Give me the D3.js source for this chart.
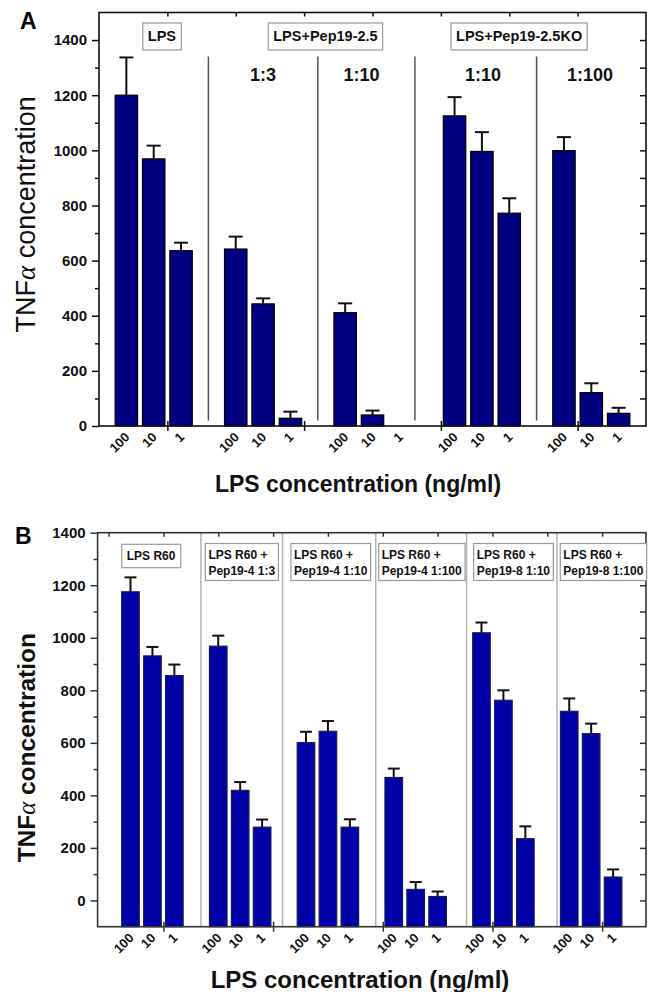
<!DOCTYPE html>
<html>
<head>
<meta charset="utf-8">
<script src="https://cdn.jsdelivr.net/npm/d3@7"></script>
<style>
  body { margin: 0; background: #fff; }
  text { font-family: "Liberation Sans", Arial, sans-serif; }
</style>
</head>
<body>
<svg id="fig" width="648" height="992"></svg>
<script>
// LPS dose written under every bar (ng/ml)
const doses = ["100", "10", "1"];

// panel A
const headersA = ["LPS", "LPS+Pep19-2.5", "LPS+Pep19-2.5KO"];
const ratiosA = ["1:3", "1:10", "1:10", "1:100"];
const tnfA = [[1200, 969, 636], [642, 443, 28], [411, 40, 0], [1125, 996, 772], [999, 121, 46]];
const errA = [[137, 48, 29], [45, 20, 24], [34, 16, 0], [68, 70, 54], [49, 34, 20]];
const yTicksA = [0, 200, 400, 600, 800, 1000, 1200, 1400];

// panel B
const headersB = [["LPS R60"], ["LPS R60 +", "Pep19-4 1:3"], ["LPS R60 +", "Pep19-4 1:10"],
  ["LPS R60 +", "Pep19-4 1:100"], ["LPS R60 +", "Pep19-8 1:10"], ["LPS R60 +", "Pep19-8 1:100"]];
const tnfB = [[1175, 931, 856], [968, 419, 279], [601, 644, 279], [468, 42, 15], [1019, 762, 235], [720, 635, 89]];
const errB = [[55, 34, 42], [40, 32, 29], [41, 39, 30], [34, 28, 19], [39, 38, 47], [49, 38, 29]];
const yTicksB = [0, 200, 400, 600, 800, 1000, 1200, 1400];

const yTitle = "TNF", alpha = "\u03b1", yTitleRest = " concentration";
const xTitle = "LPS concentration (ng/ml)";

const svg = d3.select("#fig");

// one bar per dose, groups 4 slots apart (one empty slot between groups)
function rows(tnf, err) {
  return tnf.flatMap((g, gi) => g.map((v, i) => ({ pos: gi * 4 + i, v: v, e: err[gi][i], dose: doses[i] })));
}

function drawPanel(o) {
  const g = svg.append("g");
  const x = d3.scaleLinear().domain(o.xDomain).range([o.left, o.right]);
  const y = d3.scaleLinear().domain(o.yDomain).range([o.bottom, o.top]);
  const data = rows(o.tnf, o.err);
  const bw = x(o.barFrac) - x(0);

  // group dividers
  g.selectAll(".div").data(o.dividers).enter().append("line")
    .attr("x1", d => x(d)).attr("x2", d => x(d))
    .attr("y1", y(o.divTop)).attr("y2", y(o.divBottom))
    .attr("stroke", o.divColor).attr("stroke-width", 1.5);

  // bars
  const live = data.filter(d => d.v > 0);
  g.selectAll(".bar").data(live).enter().append("rect")
    .attr("x", d => x(d.pos) - bw / 2).attr("width", bw)
    .attr("y", d => y(d.v)).attr("height", d => y(o.yDomain[0]) - y(d.v))
    .attr("fill", o.barFill).attr("stroke", o.barStroke).attr("stroke-width", 1.2);

  // error bars (upper half only)
  const eb = g.selectAll(".err").data(live.filter(d => d.e > 0)).enter().append("g")
    .attr("stroke", "#111").attr("stroke-width", 2);
  eb.append("line").attr("x1", d => x(d.pos)).attr("x2", d => x(d.pos))
    .attr("y1", d => y(d.v)).attr("y2", d => y(d.v + d.e));
  eb.append("line").attr("x1", d => x(d.pos) - o.cap / 2).attr("x2", d => x(d.pos) + o.cap / 2)
    .attr("y1", d => y(d.v + d.e)).attr("y2", d => y(d.v + d.e));

  // frame
  g.append("rect").attr("x", o.left).attr("y", o.top)
    .attr("width", o.right - o.left).attr("height", o.bottom - o.top)
    .attr("fill", "none").attr("stroke", o.frame).attr("stroke-width", 1.6);

  // left axis, major + minor
  const left = g.append("g").attr("transform", `translate(${o.left},0)`)
    .call(d3.axisLeft(y).tickValues(o.yTicks).tickSize(7).tickPadding(5).tickFormat(d3.format("d")));
  g.append("g").attr("transform", `translate(${o.left},0)`)
    .call(d3.axisLeft(y).tickValues(o.yMinor).tickSize(4).tickFormat(""));
  // right axis, inward
  g.append("g").attr("transform", `translate(${o.right},0)`)
    .call(d3.axisRight(y).tickValues(o.yRight).tickSize(-6).tickFormat(""));
  // top axis, inward
  g.append("g").attr("transform", `translate(0,${o.top})`)
    .call(d3.axisTop(x).tickValues(o.xTop).tickSize(-4).tickFormat(""));
  // bottom axis, ticks crossing the line
  g.append("g").attr("transform", `translate(0,${o.bottom + 5})`)
    .call(d3.axisTop(x).tickValues(o.xBottom).tickSize(10).tickFormat(""));
  g.selectAll(".domain").remove();
  g.selectAll(".tick line").attr("stroke", o.frame).attr("stroke-width", 1.5);
  left.selectAll("text").attr("font-size", 15).attr("font-weight", "bold").attr("fill", "#111");

  // dose labels
  g.selectAll(".dose").data(data).enter().append("text")
    .attr("transform", d => `translate(${x(d.pos) + 4},${o.bottom + 12}) rotate(-45)`)
    .attr("text-anchor", "end").attr("font-size", 13).attr("font-weight", "bold").attr("fill", "#111")
    .text(d => d.dose);

  // titles
  const yt = g.append("text")
    .attr("transform", `translate(${o.yTitleX},${(o.top + o.bottom) / 2 + o.yTitleShift}) rotate(-90)`)
    .attr("text-anchor", "middle").attr("font-size", o.yTitleSize).attr("font-weight", o.yTitleWeight)
    .attr("fill", "#111");
  yt.append("tspan").text(yTitle);
  yt.append("tspan").attr("font-family", "Liberation Serif").attr("font-weight", "normal").attr("font-style", "italic").text(alpha);
  yt.append("tspan").text(yTitleRest);

  g.append("text").attr("x", o.xTitleX).attr("y", o.xTitleY)
    .attr("text-anchor", "middle").attr("font-size", o.xTitleSize).attr("font-weight", "bold").attr("fill", "#111")
    .text(xTitle);

  g.append("text").attr("x", o.letterX).attr("y", o.letterY)
    .attr("font-size", 23).attr("font-weight", "bold").text(o.letter);

  return { g, x, y };
}

// ---------- panel A ----------
const pa = drawPanel({
  xDomain: [-1, 19], yDomain: [0, 1500], left: 99, right: 646, top: 12.5, bottom: 426,
  tnf: tnfA, err: errA, barFrac: 0.82, cap: 14,
  barFill: "#000080", barStroke: "#000", frame: "#111",
  dividers: [3, 7, 10.55, 15], divTop: 1340, divBottom: 20, divColor: "#555",
  yTicks: yTicksA, yMinor: d3.range(100, 1500, 200), yRight: d3.range(100, 1500, 100),
  xTop: d3.range(1.5, 19, 2.5), xBottom: [1.5, 6.5, 11.5, 16.5],
  yTitleX: 35, yTitleShift: -5, yTitleSize: 27, yTitleWeight: "normal",
  xTitleX: 358, xTitleY: 492, xTitleSize: 23,
  letter: "A", letterX: 20, letterY: 29
});

// header boxes and ratio labels of A
const hdrAt = [1.3, 7.28, 14.36];
headersA.forEach((h, i) => {
  const t = pa.g.append("text").attr("x", pa.x(hdrAt[i])).attr("y", 41)
    .attr("text-anchor", "middle").attr("font-size", 14.5).attr("font-weight", "bold").attr("fill", "#111")
    .text(h);
  const b = t.node().getBBox();
  pa.g.insert("rect", () => t.node()).attr("x", b.x - 5).attr("y", 23).attr("width", b.width + 10).attr("height", 27)
    .attr("fill", "#fff").attr("stroke", "#999").attr("stroke-width", 1.2);
});
const ratioAt = [5.0, 8.6, 13.04, 16.95];
pa.g.selectAll(".ratio").data(ratiosA).enter().append("text")
  .attr("x", (d, i) => pa.x(ratioAt[i])).attr("y", 81)
  .attr("text-anchor", "middle").attr("font-size", 18).attr("font-weight", "bold").attr("fill", "#111")
  .text(d => d);

// ---------- panel B ----------
const pb = drawPanel({
  xDomain: [-1.5, 23.5], yDomain: [-100, 1400], left: 97.6, right: 646, top: 532.7, bottom: 926.7,
  tnf: tnfB, err: errB, barFrac: 0.8, cap: 12,
  barFill: "#0000a6", barStroke: "#1a1a5a", frame: "#333",
  dividers: [3.21, 6.93, 11.18, 15.32, 19.44], divTop: 1400, divBottom: -100, divColor: "#b4b4b4",
  yTicks: yTicksB, yMinor: d3.range(100, 1400, 200), yRight: d3.range(0, 1400, 100),
  xTop: d3.range(-1, 23, 2.5), xBottom: [1.5, 6.5, 11.5, 16.5, 21.5],
  yTitleX: 35, yTitleShift: 18, yTitleSize: 24.5, yTitleWeight: "bold",
  xTitleX: 360, xTitleY: 988, xTitleSize: 24,
  letter: "B", letterX: 15, letterY: 544
});

// header boxes of B (first one centred, others left-aligned)
const hdrBAt = [0.94, 3.55, 7.45, 11.45, 15.78, 19.73];
headersB.forEach((lines, i) => {
  const one = lines.length === 1;
  const t = pb.g.append("text").attr("x", pb.x(hdrBAt[i])).attr("y", one ? 560 : 559)
    .attr("text-anchor", one ? "middle" : "start")
    .attr("font-size", 12).attr("font-weight", "bold").attr("fill", "#111");
  lines.forEach((l, j) => t.append("tspan").attr("x", pb.x(hdrBAt[i])).attr("dy", j ? 16 : 0).text(l));
  const b = t.node().getBBox();
  const pad = one ? 5 : 3;
  pb.g.insert("rect", () => t.node()).attr("x", b.x - pad).attr("y", one ? 544.3 : 543.5)
    .attr("width", b.width + 2 * pad).attr("height", one ? 23.4 : 37)
    .attr("fill", "#fff").attr("stroke", "#999").attr("stroke-width", 1.2);
});
</script>
</body>
</html>
